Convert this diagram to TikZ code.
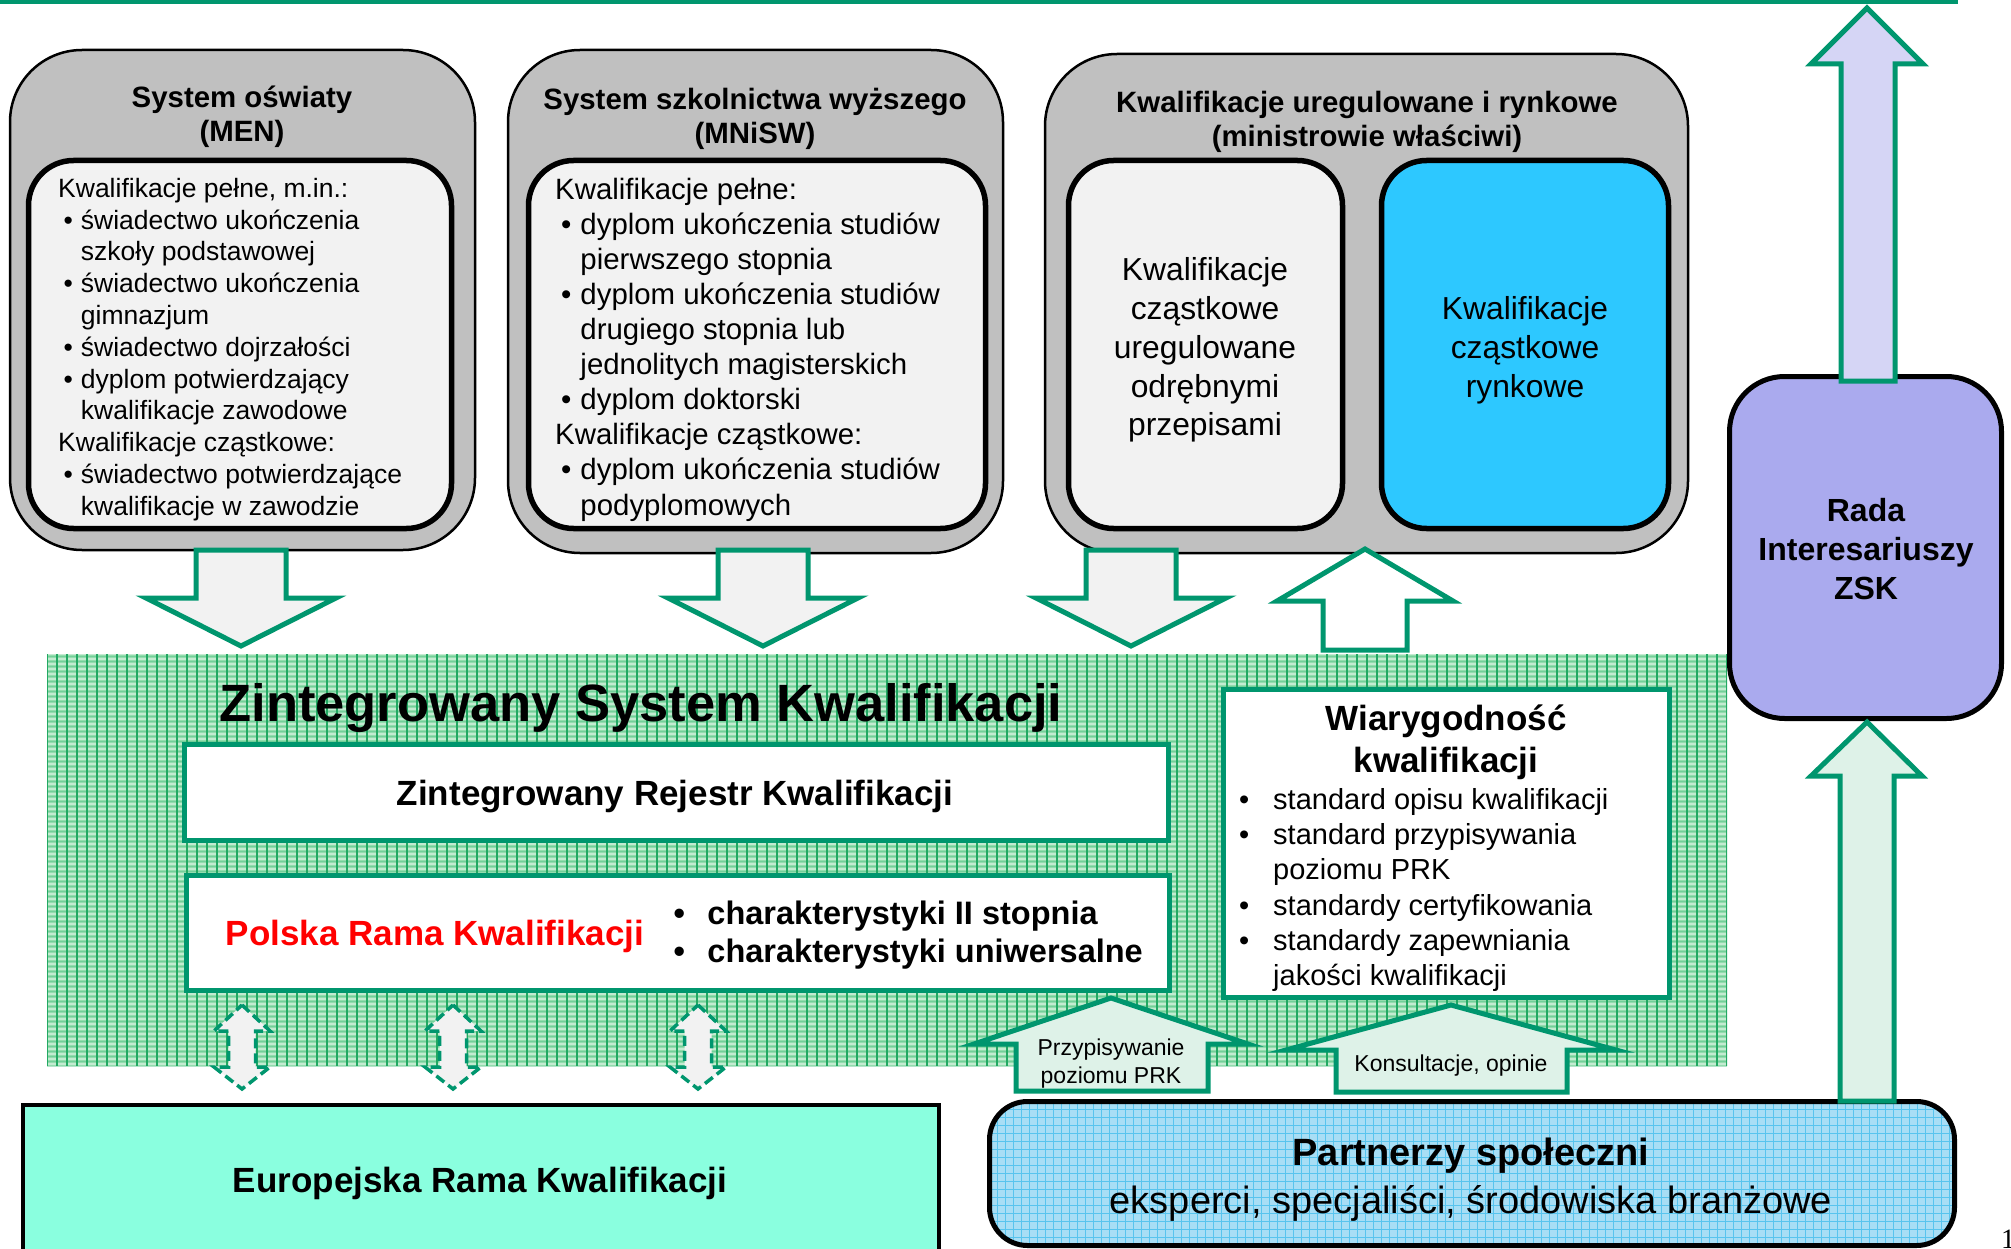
\documentclass[tikz,border=0pt]{standalone}
\usepackage{fontspec}
\setmainfont{Liberation Sans}
\newfontfamily\pagenumfont{Liberation Serif}

\definecolor{zskgreen}{HTML}{00966E}
\definecolor{boxgray}{HTML}{C0C0C0}
\definecolor{panelgray}{HTML}{F2F2F2}
\definecolor{marketblue}{HTML}{2DC8FF}
\definecolor{radaviolet}{HTML}{AAAAEE}
\definecolor{erkmint}{HTML}{8AFFDF}
\definecolor{arrowmint}{HTML}{DEF2E8}
\definecolor{arrowlavender}{HTML}{D5D5F5}
\definecolor{hatchgreen}{HTML}{93DCAD}
\definecolor{hatchrow}{HTML}{45BC7E}
\definecolor{hatchline}{HTML}{22A862}
\definecolor{partblue}{HTML}{A8DEF5}
\definecolor{partline}{HTML}{58C4EE}

\newcommand{\bul}[1][0.86em]{\makebox[#1][l]{\hspace{0.2em}\textbullet}}

\begin{document}
\begin{tikzpicture}[x=1pt,y=-1pt,
        outerbox/.style={draw=black,line width=2.5pt,fill=boxgray,rounded corners=72pt,inner sep=0pt},
        innerbox/.style={draw=black,line width=5.5pt,fill=panelgray,rounded corners=45pt,inner sep=0pt},
        greenbox/.style={draw=zskgreen,line width=5.5pt,fill=white,inner sep=0pt},
        boxtitle/.style={font=\fontsize{29.4}{34.5}\selectfont\bfseries,align=center,inner sep=0pt},
        listtext/.style={align=left,inner sep=0pt,anchor=west},
        blockarrow/.style={draw=zskgreen,line width=5pt,line join=miter},
        dasharrow/.style={draw=zskgreen,line width=3.5pt,dash pattern=on 10pt off 5pt,fill=panelgray}]
        \useasboundingbox (0,0) rectangle (2011,1249);

        % top rule
        \draw[zskgreen,line width=4pt] (0,2) -- (1958,2);

        % system oswiaty
        \node[outerbox,minimum width=465pt,minimum height=500pt] (men) at (242.5,300) {};
        \node[boxtitle] (mentitle) at (242,117) {System oświaty\\(MEN)};
        \node[innerbox,minimum width=423pt,minimum height=368pt] (menbox) at (240,344.5) {};
        \node[listtext,font=\fontsize{26.5}{31.8}\selectfont] (menlist) at (58,349.5) {%
            Kwalifikacje pełne, m.in.:\\
            \bul świadectwo ukończenia\\
            \hspace*{0.86em}szkoły podstawowej\\
            \bul świadectwo ukończenia\\
            \hspace*{0.86em}gimnazjum\\
            \bul świadectwo dojrzałości\\
            \bul dyplom potwierdzający\\
            \hspace*{0.86em}kwalifikacje zawodowe\\
            Kwalifikacje cząstkowe:\\
            \bul świadectwo potwierdzające\\
            \hspace*{0.86em}kwalifikacje w zawodzie};

        % szkolnictwo wyzsze
        \node[outerbox,minimum width=495pt,minimum height=503pt] (szw) at (755.5,301.5) {};
        \node[boxtitle] (szwtitle) at (755,119) {System szkolnictwa wyższego\\(MNiSW)};
        \node[innerbox,minimum width=457pt,minimum height=368pt] (szwbox) at (757,344.5) {};
        \node[listtext,font=\fontsize{29.4}{35.1}\selectfont] (szwlist) at (555,349.5) {%
            Kwalifikacje pełne:\\
            \bul dyplom ukończenia studiów\\
            \hspace*{0.86em}pierwszego stopnia\\
            \bul dyplom ukończenia studiów\\
            \hspace*{0.86em}drugiego stopnia lub\\
            \hspace*{0.86em}jednolitych magisterskich\\
            \bul dyplom doktorski\\
            Kwalifikacje cząstkowe:\\
            \bul dyplom ukończenia studiów\\
            \hspace*{0.86em}podyplomowych};

        % uregulowane i rynkowe
        \node[outerbox,minimum width=643pt,minimum height=499pt] (kur) at (1366.5,303.5) {};
        \node[boxtitle,font=\fontsize{29.4}{33.5}\selectfont\bfseries] (kurtitle) at (1367,122) {Kwalifikacje uregulowane i rynkowe\\(ministrowie właściwi)};
        \node[innerbox,minimum width=274pt,minimum height=368pt] (kurreg) at (1205.5,344.5) {};
        \node[align=center,inner sep=0pt,font=\fontsize{31.8}{38.8}\selectfont] (kurregtext) at (1205,350) {Kwalifikacje\\cząstkowe\\uregulowane\\odrębnymi\\przepisami};
        \node[innerbox,fill=marketblue,minimum width=287pt,minimum height=368pt] (kurmarket) at (1525,344.5) {};
        \node[align=center,inner sep=0pt,font=\fontsize{31.8}{38.8}\selectfont] (kurmarkettext) at (1525,350) {Kwalifikacje\\cząstkowe\\rynkowe};

        % arrows into ZSK and back
        \foreach \c in {241,763,1131}
            \draw[blockarrow,fill=panelgray] (\c-45,550) -- (\c+45,550) -- (\c+45,598) -- (\c+95,598) -- (\c,646) -- (\c-95,598) -- (\c-45,598) -- cycle;
        \draw[blockarrow,fill=white] (1323,650) -- (1323,601) -- (1277,601) -- (1365,549) -- (1453,601) -- (1407,601) -- (1407,650) -- cycle;

        % hatched ZSK area
        \node[fill=hatchgreen,inner sep=0pt,minimum width=1680pt,minimum height=412pt,
            path picture={
                \foreach \k in {0,5,...,412}{
                    \draw[white,opacity=0.45,line width=1.3pt] ([yshift=-\k pt]path picture bounding box.north west) -- ([yshift=-\k pt]path picture bounding box.north east);
                    \draw[hatchrow,opacity=0.4,line width=1pt] ([yshift=-\k pt-2.5pt]path picture bounding box.north west) -- ([yshift=-\k pt-2.5pt]path picture bounding box.north east);
                }
                \foreach \k in {0,10,...,1680}
                    \draw[hatchline,line width=1.1pt] ([xshift=\k pt]path picture bounding box.north west) -- ([xshift=\k pt]path picture bounding box.south west);
            }] (zsk) at (887,860) {};
        \node[anchor=base,inner sep=0pt,font=\fontsize{52.5}{60}\selectfont\bfseries] (zsktitle) at (641,721) {Zintegrowany System Kwalifikacji};

        % rejestr
        \node[greenbox,minimum width=984pt,minimum height=96pt] (zrk) at (676.5,792.5) {};
        \node[anchor=base,inner sep=0pt,font=\fontsize{35}{40}\selectfont\bfseries] (zrktext) at (675,805) {Zintegrowany Rejestr Kwalifikacji};

        % rama
        \node[greenbox,minimum width=983pt,minimum height=115pt] (prk) at (678,933) {};
        \node[anchor=base,inner sep=0pt,text=red,font=\fontsize{35}{40}\selectfont\bfseries] (prktext) at (435,945) {Polska Rama Kwalifikacji};
        \node[listtext,font=\fontsize{32.5}{38}\selectfont\bfseries] (prklist) at (667,935) {%
            \bul[1.24em]charakterystyki II stopnia\\
            \bul[1.24em]charakterystyki uniwersalne};

        % wiarygodnosc
        \node[greenbox,minimum width=446pt,minimum height=308pt] (wiar) at (1446.5,843.5) {};
        \node[boxtitle,font=\fontsize{35}{42}\selectfont\bfseries] (wiartitle) at (1446,742) {Wiarygodność\\kwalifikacji};
        \node[listtext,font=\fontsize{29}{35.3}\selectfont] (wiarlist) at (1233,890) {%
            \bul[1.38em]standard opisu kwalifikacji\\
            \bul[1.38em]standard przypisywania\\
            \hspace*{1.38em}poziomu PRK\\
            \bul[1.38em]standardy certyfikowania\\
            \bul[1.38em]standardy zapewniania\\
            \hspace*{1.38em}jakości kwalifikacji};

        % input from partners
        \draw[blockarrow,fill=arrowmint] (1016,1091) -- (1016,1044) -- (974,1044) -- (1111,998) -- (1248,1044) -- (1208,1044) -- (1208,1091) -- cycle;
        \node[align=center,inner sep=0pt,font=\fontsize{23}{28}\selectfont] (przyp) at (1111,1064) {Przypisywanie\\poziomu PRK};
        \draw[blockarrow,fill=arrowmint] (1336,1092) -- (1336,1050) -- (1286,1050) -- (1451,1005) -- (1616,1050) -- (1567,1050) -- (1567,1092) -- cycle;
        \node[inner sep=0pt,font=\fontsize{23}{28}\selectfont] (kons) at (1451,1066) {Konsultacje, opinie};

        % links to ERK
        \foreach \c in {242,453,698}
            \draw[dasharrow] (\c,1005) -- (\c+28,1031) -- (\c+13.5,1031) -- (\c+13.5,1067) -- (\c+28,1067) -- (\c,1089) -- (\c-28,1067) -- (\c-13.5,1067) -- (\c-13.5,1031) -- (\c-28,1031) -- cycle;

        % europejska rama
        \node[draw=black,line width=4pt,fill=erkmint,inner sep=0pt,minimum width=916pt,minimum height=153pt] (erk) at (481,1181.5) {};
        \node[anchor=base,inner sep=0pt,font=\fontsize{35}{40}\selectfont\bfseries] (erktext) at (480,1192) {Europejska Rama Kwalifikacji};

        % partnerzy spoleczni
        \node[draw=black,line width=5pt,fill=partblue,rounded corners=38pt,inner sep=0pt,minimum width=965pt,minimum height=144pt,
            path picture={
                \foreach \k in {0,8,...,150}
                    \draw[partline,line width=1pt] ([yshift=-\k pt]path picture bounding box.north west) -- ([yshift=-\k pt]path picture bounding box.north east);
                \foreach \k in {0,8,...,970}
                    \draw[partline,line width=1pt] ([xshift=\k pt]path picture bounding box.north west) -- ([xshift=\k pt]path picture bounding box.south west);
            }] (part) at (1472,1173.5) {};
        \node[align=center,inner sep=0pt,font=\fontsize{38}{48}\selectfont] (parttext) at (1471,1180) {\textbf{Partnerzy społeczni}\\eksperci, specjaliści, środowiska branżowe};

        % rada interesariuszy
        \node[draw=black,line width=5pt,fill=radaviolet,rounded corners=55pt,inner sep=0pt,minimum width=272pt,minimum height=342pt] (rada) at (1865.5,547.5) {};
        \node[align=center,inner sep=0pt,font=\fontsize{32}{39}\selectfont\bfseries] (radatext) at (1866,549) {Rada\\Interesariuszy\\ZSK};
        \draw[blockarrow,fill=arrowmint] (1840,1101) -- (1840,776) -- (1811,776) -- (1867,722) -- (1922,776) -- (1894,776) -- (1894,1101) -- cycle;
        \draw[blockarrow,fill=arrowlavender] (1841,381) -- (1841,64) -- (1811,64) -- (1867,8) -- (1923,64) -- (1895,64) -- (1895,381) -- cycle;

        % page number
        \node[anchor=north west,inner sep=0pt,font=\pagenumfont\fontsize{28}{30}\selectfont] (pagenum) at (2001,1230) {1};
    \end{tikzpicture}
\end{document}
